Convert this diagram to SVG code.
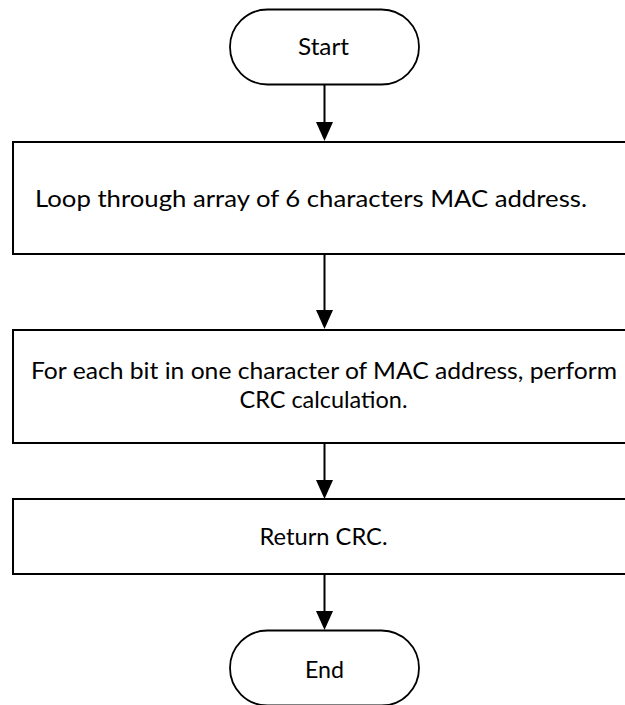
<svg xmlns="http://www.w3.org/2000/svg" width="625" height="705" viewBox="0 0 625 705">
  <style>
    .shape { fill: #ffffff; stroke: #000000; stroke-width: 2; }
    .term { fill: #ffffff; stroke: #000000; stroke-width: 1.8; }
    .lbl { font-family: "Lato", "Open Sans", "Liberation Sans", sans-serif; font-size: 24px; fill: #000000; }
    .conn { stroke: #000000; stroke-width: 2; fill: none; }
  </style>
  <defs>
    <marker id="arrow" markerUnits="userSpaceOnUse" viewBox="0 0 19 17" markerWidth="19" markerHeight="17" refX="11" refY="8.5" orient="auto">
      <path d="M0,0 L19,8.5 L0,17 z" fill="#000000"/>
    </marker>
  </defs>
  <rect width="625" height="705" fill="#ffffff"/>

  <g id="start">
    <rect class="term" x="230" y="9.5" width="189" height="75" rx="37.5" ry="37.5"/>
    <text class="lbl" x="323.5" y="55" text-anchor="middle" textLength="51" lengthAdjust="spacingAndGlyphs">Start</text>
  </g>

  <g id="loop">
    <rect class="shape" x="13" y="142" width="623" height="112"/>
    <text class="lbl" x="35" y="207" textLength="552" lengthAdjust="spacingAndGlyphs">Loop through array of 6 characters MAC address.</text>
  </g>

  <g id="crc-calc">
    <rect class="shape" x="13" y="330" width="623" height="113"/>
    <text class="lbl" x="31" y="379" textLength="586" lengthAdjust="spacingAndGlyphs">For each bit in one character of MAC address, perform</text>
    <text class="lbl" x="323.5" y="408" text-anchor="middle" textLength="168" lengthAdjust="spacingAndGlyphs">CRC calculation.</text>
  </g>

  <g id="return">
    <rect class="shape" x="13" y="499" width="623" height="75"/>
    <text class="lbl" x="323.5" y="545" text-anchor="middle" textLength="128" lengthAdjust="spacingAndGlyphs">Return CRC.</text>
  </g>

  <g id="end">
    <rect class="term" x="230" y="630.5" width="189" height="75" rx="37.5" ry="37.5"/>
    <text class="lbl" x="324.5" y="678" text-anchor="middle" textLength="39" lengthAdjust="spacingAndGlyphs">End</text>
  </g>

  <g id="connectors">
    <line class="conn" x1="324.5" y1="84.5" x2="324.5" y2="133" marker-end="url(#arrow)"/>
    <line class="conn" x1="324.5" y1="254" x2="324.5" y2="321" marker-end="url(#arrow)"/>
    <line class="conn" x1="324.5" y1="443" x2="324.5" y2="491" marker-end="url(#arrow)"/>
    <line class="conn" x1="324.5" y1="574" x2="324.5" y2="622" marker-end="url(#arrow)"/>
  </g>
</svg>
